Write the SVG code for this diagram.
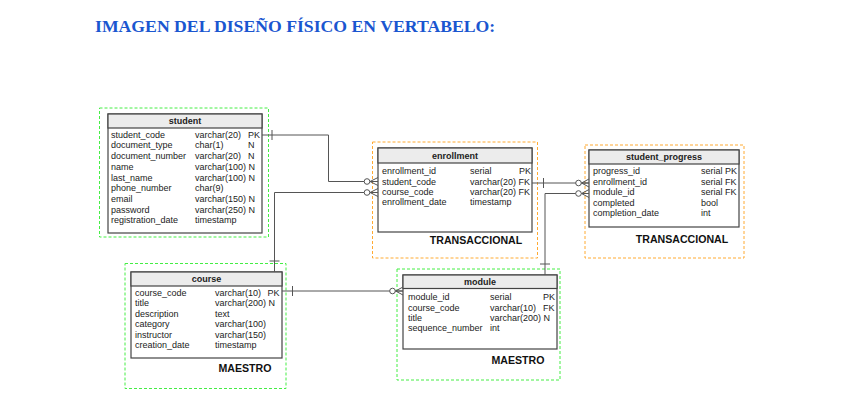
<svg xmlns="http://www.w3.org/2000/svg" width="849" height="407" viewBox="0 0 849 407">
<style>
.title{font-family:"Liberation Serif",serif;font-weight:bold;font-size:17.7px;fill:#1a56d0}
.tb{fill:#fff;stroke:#444;stroke-width:1.2}
.hd{fill:#ececec;stroke:#444;stroke-width:1.2}
.hn{font-family:"Liberation Sans",Arial,sans-serif;font-weight:bold;font-size:9px;fill:#222;text-anchor:middle}
.r{font-family:"Liberation Sans",Arial,sans-serif;font-size:9px;fill:#222}
.lbl{font-family:"Liberation Sans",Arial,sans-serif;font-weight:bold;font-size:10.6px;fill:#111;text-anchor:middle}
.gz{fill:none;stroke:#44ee44;stroke-width:1;stroke-dasharray:3 2}
.oz{fill:none;stroke:#ffaa33;stroke-width:1;stroke-dasharray:3 2}
.ln{fill:none;stroke:#555;stroke-width:1}
.ci{fill:#fff;stroke:#555;stroke-width:1}
</style>
<text class="title" x="95" y="32">IMAGEN DEL DISEÑO FÍSICO EN VERTABELO:</text>

<g id="student">
<rect class="gz" x="99.5" y="108" width="169" height="129"/>
<rect class="tb" x="108" y="114" width="154" height="119"/>
<rect class="hd" x="108" y="114" width="154" height="14"/>
<text class="hn" x="185" y="124">student</text>
<g class="r">
<text x="111" y="137.7">student_code</text><text x="195" y="137.7">varchar(20)</text><text x="248" y="137.7">PK</text>
<text x="111" y="148.4">document_type</text><text x="195" y="148.4">char(1)</text><text x="248" y="148.4">N</text>
<text x="111" y="159.1">document_number</text><text x="195" y="159.1">varchar(20)</text><text x="248" y="159.1">N</text>
<text x="111" y="169.8">name</text><text x="195" y="169.8">varchar(100) N</text>
<text x="111" y="180.5">last_name</text><text x="195" y="180.5">varchar(100) N</text>
<text x="111" y="191.2">phone_number</text><text x="195" y="191.2">char(9)</text>
<text x="111" y="201.9">email</text><text x="195" y="201.9">varchar(150) N</text>
<text x="111" y="212.6">password</text><text x="195" y="212.6">varchar(250) N</text>
<text x="111" y="223.3">registration_date</text><text x="195" y="223.3">timestamp</text>
</g>
</g>

<g id="enrollment">
<rect class="oz" x="372.5" y="142" width="165" height="116"/>
<rect class="tb" x="378" y="148" width="154" height="84"/>
<rect class="hd" x="378" y="148" width="154" height="15"/>
<text class="hn" x="455" y="158.5">enrollment</text>
<g class="r">
<text x="382" y="173.9">enrollment_id</text><text x="470" y="173.9">serial</text><text x="519" y="173.9">PK</text>
<text x="382" y="184.5">student_code</text><text x="470" y="184.5">varchar(20) FK</text>
<text x="382" y="194.9">course_code</text><text x="470" y="194.9">varchar(20) FK</text>
<text x="382" y="205.2">enrollment_date</text><text x="470" y="205.2">timestamp</text>
</g>
<text class="lbl" x="476" y="244">TRANSACCIONAL</text>
</g>

<g id="student_progress">
<rect class="oz" x="585" y="145" width="159" height="113"/>
<rect class="tb" x="589" y="150" width="150" height="77"/>
<rect class="hd" x="589" y="150" width="150" height="14"/>
<text class="hn" x="664" y="160">student_progress</text>
<g class="r">
<text x="593" y="174.2">progress_id</text><text x="701" y="174.2">serial PK</text>
<text x="593" y="184.9">enrollment_id</text><text x="701" y="184.9">serial FK</text>
<text x="593" y="195.2">module_id</text><text x="701" y="195.2">serial FK</text>
<text x="593" y="205.5">completed</text><text x="701" y="205.5">bool</text>
<text x="593" y="215.9">completion_date</text><text x="701" y="215.9">int</text>
</g>
<text class="lbl" x="682" y="242.5">TRANSACCIONAL</text>
</g>

<g id="course">
<rect class="gz" x="125" y="263.5" width="161" height="125"/>
<rect class="tb" x="131" y="272" width="151" height="86"/>
<rect class="hd" x="131" y="272" width="151" height="14"/>
<text class="hn" x="206.5" y="282">course</text>
<g class="r">
<text x="135" y="295.5">course_code</text><text x="215" y="295.5">varchar(10)</text><text x="267.5" y="295.5">PK</text>
<text x="135" y="305.9">title</text><text x="215" y="305.9">varchar(200) N</text>
<text x="135" y="316.5">description</text><text x="215" y="316.5">text</text>
<text x="135" y="326.9">category</text><text x="215" y="326.9">varchar(100)</text>
<text x="135" y="337.5">instructor</text><text x="215" y="337.5">varchar(150)</text>
<text x="135" y="348.2">creation_date</text><text x="215" y="348.2">timestamp</text>
</g>
<text class="lbl" x="245" y="372">MAESTRO</text>
</g>

<g id="module">
<rect class="gz" x="397" y="269" width="163" height="111"/>
<rect class="tb" x="403" y="275" width="154" height="74"/>
<rect class="hd" x="403" y="275" width="154" height="13.5"/>
<text class="hn" x="480" y="285">module</text>
<g class="r">
<text x="408" y="299.9">module_id</text><text x="490" y="299.9">serial</text><text x="543" y="299.9">PK</text>
<text x="408" y="310.5">course_code</text><text x="490" y="310.5">varchar(10)</text><text x="543" y="310.5">FK</text>
<text x="408" y="320.9">title</text><text x="490" y="320.9">varchar(200) N</text>
<text x="408" y="330.9">sequence_number</text><text x="490" y="330.9">int</text>
</g>
<text class="lbl" x="518" y="364">MAESTRO</text>
</g>

<g id="connectors">
<path class="ln" d="M262,135 H328.5 V181.5 H378"/>
<path class="ln" d="M272,130 V140"/>
<path class="ln" d="M370,181.5 L378,177.5 M370,181.5 L378,181.5 M370,181.5 L378,185.5"/>
<circle class="ci" cx="367" cy="181.5" r="2.8"/>

<path class="ln" d="M274.5,272 V192.5 H378"/>
<path class="ln" d="M269.5,261 H279.5"/>
<path class="ln" d="M370,192.5 L378,188.5 M370,192.5 L378,192.5 M370,192.5 L378,196.5"/>
<circle class="ci" cx="367" cy="192.5" r="2.8"/>

<path class="ln" d="M282,291 H403"/>
<path class="ln" d="M292.5,286 V296"/>
<path class="ln" d="M395.5,291 L403,287 M395.5,291 L403,291 M395.5,291 L403,295"/>
<circle class="ci" cx="392.5" cy="291" r="2.8"/>

<path class="ln" d="M532,183 H589"/>
<path class="ln" d="M543.5,178 V188"/>
<path class="ln" d="M581.5,183 L589,179 M581.5,183 L589,183 M581.5,183 L589,187"/>
<circle class="ci" cx="578.5" cy="183" r="2.8"/>

<path class="ln" d="M545,275 V193.5 H589"/>
<path class="ln" d="M540,264 H550"/>
<path class="ln" d="M581.5,193.5 L589,189.5 M581.5,193.5 L589,193.5 M581.5,193.5 L589,197.5"/>
<circle class="ci" cx="578.5" cy="193.5" r="2.8"/>
</g>
</svg>
